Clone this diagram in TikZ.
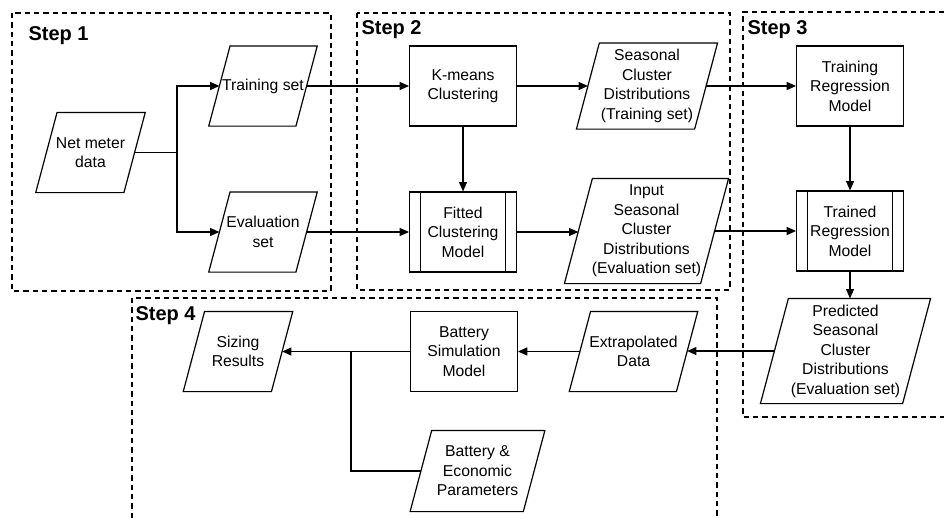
\documentclass[tikz,border=0pt]{standalone}
\usepackage{fontspec}
\setmainfont{Liberation Sans}
\usetikzlibrary{arrows.meta,calc}

% parallelogram drawn round a (plain) node
\newcommand{\slanted}[1]{%
  \draw let \p1=(#1.north east), \p2=(#1.south west), \n1={0.133*(\y1-\y2)} in
    (\x2+\n1,\y1) -- (\x1+\n1,\y1) -- (\x1-\n1,\y2) -- (\x2-\n1,\y2) -- cycle;}
% inner side bars of a predefined process
\newcommand{\subproc}[1]{%
  \draw ([xshift=8.5pt]#1.north west) -- ([xshift=8.5pt]#1.south west)
        ([xshift=-8.5pt]#1.north east) -- ([xshift=-8.5pt]#1.south east);}

\begin{document}
\begin{tikzpicture}[
  x=0.75pt, y=-0.75pt, >={Triangle[length=7pt,width=6pt]}, line width=0.9pt,
  every node/.style={font=\fontsize{11.8}{14.6}\selectfont, align=center, inner sep=0pt},
  proc/.style={draw, rectangle, minimum width=80pt, minimum height=60pt},
  data/.style={rectangle, minimum height=59.25pt},
  stepframe/.style={dash pattern=on 4pt off 3pt, line width=0.8pt},
  steplabel/.style={anchor=west, font=\fontsize{15}{18}\selectfont\bfseries}
]
  \useasboundingbox (0,0) rectangle (944,518);

  % step frames
  \draw[stepframe] (12,13) rectangle (331,291);
  \draw[stepframe] (357,13) rectangle (730,290);
  \draw[stepframe] (944,12) -- (743,12) -- (743,417) -- (944,417);
  \draw[stepframe] (132,518) -- (132,298) -- (717,298) -- (717,518);
  \node[steplabel] (lab1) at (28,36) {Step 1};
  \node[steplabel] (lab2) at (361,30) {Step 2};
  \node[steplabel] (lab3) at (747,30) {Step 3};
  \node[steplabel] (lab4) at (135,316) {Step 4};

  % blocks
  \node[data, minimum width=65.25pt] (net) at (90.5,152.5) {Net meter\\data};
  \node[data, minimum width=64.5pt] (train) at (263,86) {Training set};
  \node[data, minimum width=64.5pt] (eval) at (263,232) {Evaluation\\set};
  \node[proc] (kmeans) at (463,86) {K-means\\Clustering};
  \node[proc] (fitted) at (463,232) {Fitted\\Clustering\\Model};
  \node[data, minimum width=87.75pt, minimum height=63.75pt] (seastrain) at (647,86)
    {Seasonal\\Cluster\\Distributions\\(Training set)};
  \node[data, minimum width=101.25pt, minimum height=78pt] (seaseval) at (646.5,231)
    {Input\\Seasonal\\Cluster\\Distributions\\(Evaluation set)};
  \node[proc] (trainreg) at (850,86) {Training\\Regression\\Model};
  \node[proc] (trainedreg) at (850,231) {Trained\\Regression\\Model};
  \node[data, minimum width=105.75pt, minimum height=78pt] (pred) at (845.5,351)
    {Predicted\\Seasonal\\Cluster\\Distributions\\(Evaluation set)};
  \node[data, minimum width=79.5pt] (extrap) at (633.5,351.5) {Extrapolated\\Data};
  \node[proc] (batsim) at (464,351.5) {Battery\\Simulation\\Model};
  \node[data, minimum width=65.25pt] (sizing) at (238,351.5) {Sizing\\Results};
  \node[data, minimum width=84pt, minimum height=60pt] (params) at (477.5,471)
    {Battery \&\\Economic\\Parameters};

  \slanted{net} \slanted{train} \slanted{eval} \slanted{seastrain}
  \slanted{seaseval} \slanted{pred} \slanted{extrap} \slanted{sizing} \slanted{params}
  \subproc{fitted} \subproc{trainedreg}

  % connectors
  \coordinate (split1) at (177,152.5);
  \coordinate (split2) at (351,351.5);
  \draw (net.east) -- (split1);
  \draw[->] (split1) |- (train.west);
  \draw[->] (split1) |- (eval.west);
  \draw[->] (train.east) -- (kmeans.west);
  \draw[->] (eval.east) -- (fitted.west);
  \draw[->] (kmeans) -- (fitted);
  \draw[->] (kmeans.east) -- (seastrain.west);
  \draw[->] (fitted.east) -- (fitted.east -| seaseval.west);
  \draw[->] (seastrain.east) -- (trainreg.west);
  \draw[->] (seaseval.east) -- (trainedreg.west);
  \draw[->] (trainreg) -- (trainedreg);
  \draw[->] (trainedreg) -- (trainedreg.south |- pred.north);
  \draw[->] (pred.west) -- (pred.west -| extrap.east);
  \draw[->] (extrap.west) -- (batsim.east);
  \draw[->] (batsim.west) -- (sizing.east);
  \draw (params.west) -| (split2);
\end{tikzpicture}
\end{document}
